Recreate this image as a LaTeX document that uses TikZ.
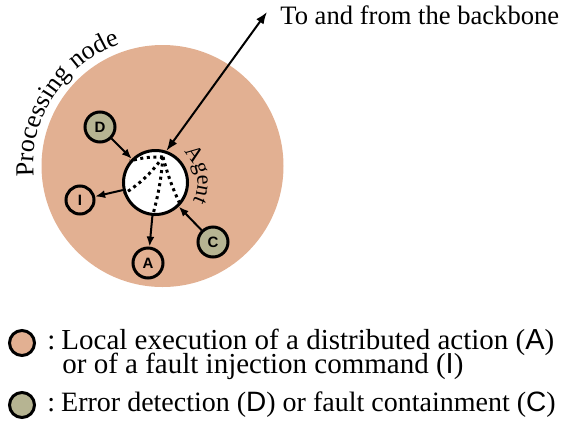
\documentclass[tikz,border=0pt]{standalone}
\usepackage{fontspec}
\setmainfont{Liberation Serif}
\newfontfamily\lsans{Liberation Sans}
\usetikzlibrary{arrows.meta,positioning,decorations.text}
\definecolor{speckle}{RGB}{226,176,146}
\definecolor{speckgray}{RGB}{182,180,146}
\tikzset{
  procdisk/.style={circle, fill=speckle, minimum size=121pt, inner sep=0pt},
  agentbox/.style={circle, draw=black, line width=1.5pt, fill=white, minimum size=32pt, inner sep=0pt},
  actnode/.style={circle, draw=black, line width=1.5pt, fill=speckle, minimum size=15pt, inner sep=0pt, font=\lsans\bfseries\fontsize{7.5}{7.5}\selectfont},
  detnode/.style={actnode, fill=speckgray},
  agline/.style={-{Latex[length=5pt,width=4pt]}, line width=1pt},
  bbline/.style={{Latex[length=6pt,width=4.5pt]}-{Latex[length=6pt,width=4.5pt]}, line width=1pt},
  dotline/.style={line width=1.5pt, dash pattern=on 1.5pt off 1.8pt},
  legtext/.style={anchor=base west, inner sep=0pt, font=\fontsize{14.5}{16}\selectfont}
}

\begin{document}
\begin{tikzpicture}[x=0.5pt,y=0.5pt]
  \useasboundingbox (0,0) rectangle (563,-424);
  \node[procdisk] (proc) at (162.5,-166) {};
  \node[agentbox] (agent) at (155.5,-182.5) {};
  \node[detnode] (nD) at (100,-127) {D};
  \node[actnode, minimum size=14pt] (nI) at (80,-200) {I};
  \node[actnode] (nA) at (148,-263) {A};
  \node[detnode] (nC) at (213,-242) {C};
  \coordinate (hub) at (163,-157);
  \coordinate (bb) at (267,-12);
  \node[anchor=west, inner sep=0pt, font=\fontsize{13.3}{15}\selectfont] (bblabel) at (280,-15) {To and from the backbone};

  \draw[dotline] (hub) to[bend right=8] (agent.140);
  \draw[dotline] (hub) to[bend left=10] (agent.200);
  \draw[dotline] (hub) to[bend left=5] (agent.265);
  \draw[dotline] (hub) to[bend right=5] (agent.318);

  \draw[agline] (nD) -- (agent);
  \draw[agline] (agent) -- (nI);
  \draw[agline] (agent) -- (nA);
  \draw[agline] (nC) -- (agent);
  \draw[bbline] (agent.71) -- (bb);

  \path[decorate, decoration={text along path, text align=center,
      text={|\fontsize{13}{15}\selectfont|Processing node}}]
    (proc.center) ++(190:64.5pt) arc[start angle=190, end angle=104, radius=64.5pt];
  \path[decorate, decoration={text along path, text align=center,
      text={|\fontsize{11}{13}\selectfont|Agent}}]
    (agent.center) ++(60:21pt) arc[start angle=60, end angle=-40, radius=21pt];

  \node[actnode, minimum size=12.5pt] (legA) at (22,-343) {};
  \node[detnode, minimum size=12.5pt] (legD) at (22,-405) {};
  \node[legtext] (legtA) at (47,-349) {:\kern3pt Local execution of a distributed action ({\lsans A})};
  \node[legtext] (legtI) at (62,-373) {or of a fault injection command ({\lsans I})};
  \node[legtext, font=\fontsize{14}{16}\selectfont] (legtD) at (47,-411) {:\kern3pt Error detection ({\lsans D}) or fault containment ({\lsans C})};
\end{tikzpicture}
\end{document}
